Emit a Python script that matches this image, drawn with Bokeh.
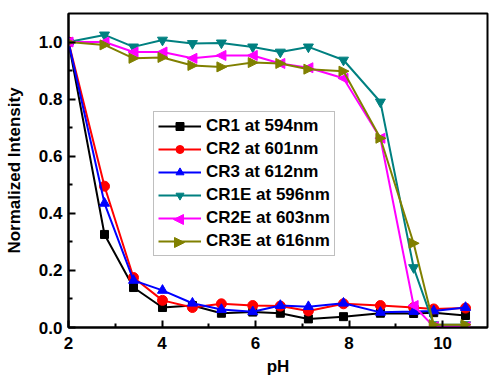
from bokeh.plotting import figure
from bokeh.models import FixedTicker, Range1d, Legend, LegendItem
from bokeh.embed import file_html
from bokeh.resources import INLINE

# ---- data ----
ph = [2.0, 2.77, 3.39, 4.01, 4.65, 5.27, 5.94, 6.53, 7.13, 7.88, 8.67, 9.38, 9.81, 10.49]
cr1 = [1.0, 0.326, 0.14, 0.07, 0.077, 0.05, 0.054, 0.05, 0.03, 0.038, 0.05, 0.049, 0.052, 0.042]
cr2 = [1.0, 0.495, 0.175, 0.095, 0.07, 0.083, 0.077, 0.075, 0.058, 0.083, 0.077, 0.07, 0.065, 0.068]
cr3 = [1.0, 0.435, 0.165, 0.13, 0.085, 0.063, 0.055, 0.077, 0.073, 0.085, 0.053, 0.056, 0.058, 0.07]
cr1e = [1.0, 1.025, 0.983, 1.007, 0.995, 0.997, 0.983, 0.965, 0.983, 0.937, 0.79, 0.21, 0.01, 0.01]
cr2e = [1.0, 1.0, 0.965, 0.965, 0.943, 0.953, 0.953, 0.925, 0.91, 0.873, 0.663, 0.077, 0.003, 0.003]
cr3e = [1.0, 0.99, 0.943, 0.946, 0.918, 0.913, 0.928, 0.925, 0.905, 0.898, 0.663, 0.295, 0.01, 0.01]

labels = ["CR1 at 594nm", "CR2 at 601nm", "CR3 at 612nm",
          "CR1E at 596nm", "CR2E at 603nm", "CR3E at 616nm"]
colors = ["#000000", "#FF0000", "#0000FF", "#008080", "#FF00FF", "#808000"]
# marker kinds ("left"/"right" = sideways triangles drawn as small patches)
markers = ["square", "circle", "triangle", "inverted_triangle", "left", "right"]
sizes = [8, 10, 10, 10, 10, 10]
series = [cr1, cr2, cr3, cr1e, cr2e, cr3e]

x_ticks = [2, 4, 6, 8, 10]
x_minor = [3, 5, 7, 9]
y_ticks = [0.0, 0.2, 0.4, 0.6, 0.8, 1.0]
y_minor = [0.1, 0.3, 0.5, 0.7, 0.9]
y_tick_labels = {0.0: "0.0", 0.2: "0.2", 0.4: "0.4", 0.6: "0.6", 0.8: "0.8", 1.0: "1.0"}

FONT = "Liberation Sans"

W, H = 489, 381
BL, BT, BR, BB = 68, 13, 2, 54
X0, X1, Y0, Y1 = 2.0, 10.96, 0.0, 1.1
# pixel -> data conversion factors of the fixed plot frame
KX = (X1 - X0) / (W - BL - BR)
KY = (Y1 - Y0) / (H - BT - BB)

p = figure(width=W, height=H, output_backend="svg", toolbar_location=None,
           x_range=Range1d(X0, X1), y_range=Range1d(Y0, Y1),
           min_border_left=BL, min_border_top=BT, min_border_right=BR, min_border_bottom=BB)
p.grid.visible = False
p.background_fill_color = "white"
p.border_fill_color = "white"
p.outline_line_color = "black"
p.outline_line_width = 2

# legend geometry (screen px from the plot frame's bottom-left)
LEG_X, LEG_Y = 85, 71
PAD, SPACING, ROW_H, GLYPH_W = 4, 3, 20, 43

TIP, BACK, HALF = 5.5, 4.5, 5.0  # sideways triangle shape in px


def side_triangles(xc, yc, direction):
    s = -1 if direction == "left" else 1
    xs = [[x + s * TIP * KX, x - s * BACK * KX, x - s * BACK * KX] for x in xc]
    ys = [[y, y + HALF * KY, y - HALF * KY] for y in yc]
    return xs, ys


items = []
n = len(series)
for i, (ys, lab, col, mk, sz) in enumerate(zip(series, labels, colors, markers, sizes)):
    r1 = p.line(ph, ys, line_color=col, line_width=2)
    rends = [r1]
    if mk in ("left", "right"):
        txs, tys = side_triangles(ph, ys, mk)
        p.patches(txs, tys, fill_color=col, line_color=col, line_width=1)
        # marker shown in the legend row (the legend box is transparent)
        row_from_bottom = n - 1 - i
        lx = X0 + (LEG_X + PAD + GLYPH_W / 2) * KX
        ly = Y0 + (LEG_Y + PAD + ROW_H / 2 + row_from_bottom * (ROW_H + SPACING)) * KY
        lxs, lys = side_triangles([lx], [ly], mk)
        p.patches(lxs, lys, fill_color=col, line_color=col, line_width=1)
    else:
        r2 = p.scatter(ph, ys, marker=mk, size=sz, fill_color=col, line_color=col)
        rends.append(r2)
    items.append(LegendItem(label=lab, renderers=rends))

legend = Legend(items=items, location=(LEG_X, LEG_Y))
legend.label_text_font = FONT
legend.label_text_font_style = "bold"
legend.label_text_font_size = "17px"
legend.label_text_color = "black"
legend.border_line_color = "#808080"
legend.border_line_width = 1
legend.background_fill_alpha = 0
legend.padding = PAD
legend.spacing = SPACING
legend.margin = 0
legend.glyph_width = GLYPH_W
legend.glyph_height = ROW_H
legend.label_height = ROW_H
legend.label_standoff = 5
p.add_layout(legend, "center")

for ax in (p.xaxis[0], p.yaxis[0]):
    ax.axis_line_width = 2
    ax.axis_line_color = "black"
    ax.major_tick_in = 7
    ax.major_tick_out = 0
    ax.minor_tick_in = 4
    ax.minor_tick_out = 0
    ax.major_tick_line_width = 2
    ax.minor_tick_line_width = 2
    ax.major_label_text_font = FONT
    ax.major_label_text_font_style = "bold"
    ax.major_label_text_font_size = "17px"
    ax.major_label_text_color = "black"
    ax.axis_label_text_font = FONT
    ax.axis_label_text_font_style = "bold"
    ax.axis_label_text_font_size = "17px"
    ax.axis_label_text_color = "black"

p.xaxis.ticker = FixedTicker(ticks=x_ticks, minor_ticks=x_minor)
p.yaxis.ticker = FixedTicker(ticks=y_ticks, minor_ticks=y_minor)
p.yaxis.major_label_overrides = y_tick_labels
p.xaxis.axis_label = "pH"
p.yaxis.axis_label = "Normalized Intensity"
p.xaxis.major_label_standoff = 9
p.xaxis.axis_label_standoff = 5
p.yaxis.major_label_standoff = 6
p.yaxis.axis_label_standoff = 12

open("out.html", "w").write(file_html(p, INLINE))
